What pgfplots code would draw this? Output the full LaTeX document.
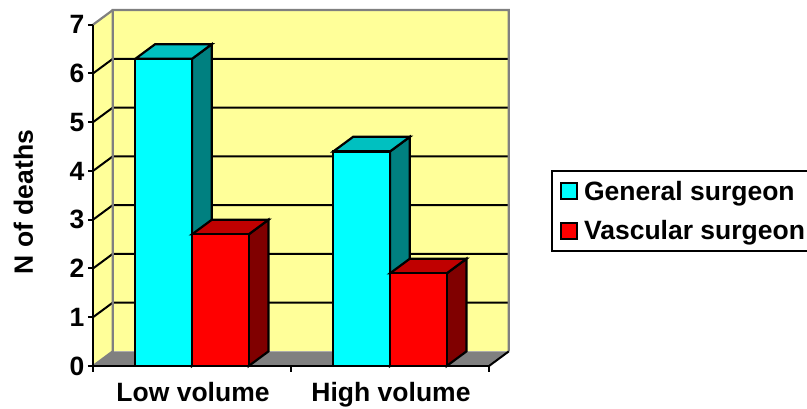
\documentclass[border=0pt]{standalone}
\usepackage{fontspec}
\setmainfont{Liberation Sans}
\usepackage{pgfplots}
\pgfplotsset{compat=1.18}

\definecolor{wall}{HTML}{FFFF99}
\definecolor{floorgray}{HTML}{808080}
\definecolor{genfront}{HTML}{00FFFF}
\definecolor{gentop}{HTML}{00C0C0}
\definecolor{genside}{HTML}{008080}
\definecolor{vasfront}{HTML}{FF0000}
\definecolor{vastop}{HTML}{C00000}
\definecolor{vasside}{HTML}{800000}

\pgfplotsset{
  box/.style={draw=black, line width=2.2pt, line join=miter},
  frontbar/.style={ybar, bar width=0.2863, box,
    legend image code/.code={\draw[##1, draw=black, line width=2pt] (0pt,-8pt) rectangle (16pt,8pt); \path (20pt,0pt);}},
  grid3d/.style={draw=black, line width=2pt, forget plot},
  edge3d/.style={draw=floorgray, line width=2.2pt, forget plot},
}
\newcommand{\lab}{\fontsize{26.5}{29}\selectfont\bfseries}

\begin{document}
\begin{tikzpicture}
\useasboundingbox (0,0) rectangle (807pt,409pt);
\begin{axis}[
  at={(93pt,43pt)}, anchor=south west,
  scale only axis, width=396pt, height=341.3pt,
  xmin=0, xmax=2, ymin=0, ymax=7,
  clip=false, axis on top,
  axis x line=bottom, axis y line=left,
  axis line style={-, line width=2.2pt, black},
  xtick={0.5,1.5}, xticklabels={Low volume,High volume},
  minor xtick={0,1,2},
  ytick={0,1,2,3,4,5,6,7},
  major x tick style={draw=none},
  minor x tick style={line width=2pt, black},
  ytick style={line width=2pt, black},
  tick align=outside,
  major tick length=5pt, minor tick length=6pt,
  /pgf/number format/assume math mode=true,
  tick label style={font=\lab},
  x tick label style={yshift=-8pt, xshift=1pt},
  y tick label style={xshift=0pt},
  ylabel={N of deaths},
  ylabel style={at={(axis description cs:-0.176,0.48)}, anchor=center, font=\lab},
  legend style={at={(axis description cs:1.1566,0.574)}, anchor=north west,
    draw=black, line width=2pt, font=\lab, row sep=14.5pt,
    inner xsep=8pt, inner ysep=8pt},
  legend cell align=left,
]
% walls and floor
\addplot[fill=wall, draw=none, forget plot] coordinates {(0.1,0.3) (2.1,0.3) (2.1,7.3) (0.1,7.3)} --cycle;
\addplot[fill=wall, draw=none, forget plot] coordinates {(0,0) (0.1,0.3) (0.1,7.3) (0,7)} --cycle;
\addplot[fill=floorgray, draw=none, forget plot] coordinates {(0,0) (2,0) (2.1,0.3) (0.1,0.3)} --cycle;

% grid on both walls
\addplot[grid3d] coordinates {(0,1) (0.1,1.3) (2.1,1.3)};
\addplot[grid3d] coordinates {(0,2) (0.1,2.3) (2.1,2.3)};
\addplot[grid3d] coordinates {(0,3) (0.1,3.3) (2.1,3.3)};
\addplot[grid3d] coordinates {(0,4) (0.1,4.3) (2.1,4.3)};
\addplot[grid3d] coordinates {(0,5) (0.1,5.3) (2.1,5.3)};
\addplot[grid3d] coordinates {(0,6) (0.1,6.3) (2.1,6.3)};

% wall edges
\addplot[edge3d] coordinates {(0,0) (0.1,0.3) (0.1,7.3) (2.1,7.3) (2.1,0.3)};
\addplot[edge3d] coordinates {(0,7) (0.1,7.3)};
\addplot[draw=black, line width=2pt, forget plot] coordinates {(2,0) (2.1,0.3)};

% general surgeon: tops and sides
\addplot[box, fill=genside, forget plot] coordinates {(0.5,0) (0.6,0.3) (0.6,6.6) (0.5,6.3)} --cycle;
\addplot[box, fill=gentop, forget plot] coordinates {(0.2137,6.3) (0.5,6.3) (0.6,6.6) (0.3137,6.6)} --cycle;
\addplot[box, fill=genside, forget plot] coordinates {(1.5,0) (1.6,0.3) (1.6,4.7) (1.5,4.4)} --cycle;
\addplot[box, fill=gentop, forget plot] coordinates {(1.2137,4.4) (1.5,4.4) (1.6,4.7) (1.3137,4.7)} --cycle;

% general surgeon: fronts
\addplot[frontbar, bar shift=-0.14315, fill=genfront] coordinates {(0.5,6.3) (1.5,4.4)};
\addlegendentry{General surgeon}

% vascular surgeon: tops and sides
\addplot[box, fill=vasside, forget plot] coordinates {(0.7863,0) (0.8863,0.3) (0.8863,3.0) (0.7863,2.7)} --cycle;
\addplot[box, fill=vastop, forget plot] coordinates {(0.5,2.7) (0.7863,2.7) (0.8863,3.0) (0.6,3.0)} --cycle;
\addplot[box, fill=vasside, forget plot] coordinates {(1.7863,0) (1.8863,0.3) (1.8863,2.2) (1.7863,1.9)} --cycle;
\addplot[box, fill=vastop, forget plot] coordinates {(1.5,1.9) (1.7863,1.9) (1.8863,2.2) (1.6,2.2)} --cycle;

% vascular surgeon: fronts
\addplot[frontbar, bar shift=0.14315, fill=vasfront] coordinates {(0.5,2.7) (1.5,1.9)};
\addlegendentry{Vascular surgeon}
\end{axis}
\end{tikzpicture}
\end{document}
